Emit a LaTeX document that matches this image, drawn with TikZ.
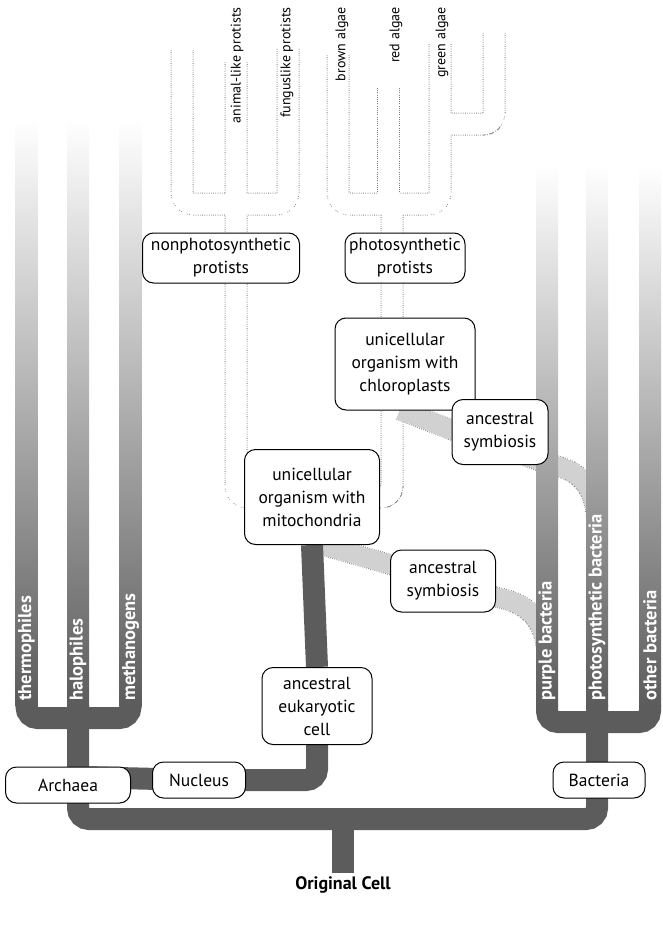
\documentclass[tikz,border=0pt]{standalone}
\usepackage{fontspec}
\setmainfont{PT Sans}
\usetikzlibrary{backgrounds}

\definecolor{barcol}{gray}{0.36}
\definecolor{ghostcol}{gray}{0.5}
\definecolor{bandcol}{gray}{0.82}

% dotted protist branches (drawn twice: edge, then white core)
\newcommand{\protisttree}[1]{%
  \draw[#1] (182,50) |- (288,204) -- (288,48);
  \draw[#1] (236,62) |- (mito);
  \draw[#1] (338,55) |- (440,204) -- (440,43);
  \draw[#1] (388,88) -- (388,204);
  \draw[#1] (494,33) |- (440,124);
  \draw[#1] (392,204) |- (mito);
}
% symbiosis bands
\newcommand{\symbands}[1]{%
  \draw[#1] (597,530) .. controls (597,488) and (582,470) .. (548,464) -- (452,430) -- (400,410);
  \draw[#1] (547,660) .. controls (547,622) and (530,603) .. (495,597) -- (392,565) -- (322,545);
}

\begin{document}
\begin{tikzpicture}[
  x=1pt,y=-1pt,
  font=\fontsize{17.5}{23}\selectfont,
  box/.style={draw, line width=1pt, rounded corners=11pt, fill=white, align=center, inner sep=2pt},
  bar/.style={draw=barcol, line width=22pt, rounded corners=11pt},
  fade/.style={top color=white, bottom color=barcol},
  ghostedge/.style={draw=ghostcol, line width=23pt, dash pattern=on 0.7pt off 1.5pt, rounded corners=11pt},
  ghostcore/.style={draw=white, line width=21pt, rounded corners=11pt},
  bandedge/.style={draw=ghostcol, line width=21pt, dash pattern=on 0.7pt off 1.5pt},
  bandcore/.style={draw=bandcol, line width=19pt},
  barlab/.style={rotate=90, anchor=west, text=white, inner sep=1pt, font=\bfseries\fontsize{18.5}{18}\selectfont},
  toplab/.style={rotate=90, anchor=east, inner sep=1pt, font=\fontsize{14}{14}\selectfont},
]
\useasboundingbox (0,0) rectangle (662,926);

%% ---------- BOXES ----------
\node[box, minimum width=157, minimum height=50] (nonphoto) at (221,258) {nonphotosynthetic\\protists};
\node[box, minimum width=120, minimum height=50] (photo) at (405,258) {photosynthetic\\protists};
\node[box, minimum width=140, minimum height=92] (chloro) at (405,364) {unicellular\\organism with\\chloroplasts};
\node[box, minimum width=96, minimum height=65] (symup) at (500,432) {ancestral\\symbiosis};
\node[box, minimum width=135, minimum height=95] (mito) at (312,497) {unicellular\\organism with\\mitochondria};
\node[box, minimum width=105, minimum height=62] (symlow) at (443,581) {ancestral\\symbiosis};
\node[box, minimum width=110, minimum height=77] (euk) at (317,706) {ancestral\\eukaryotic\\cell};
\node[box, minimum width=93, minimum height=36] (nucleus) at (199,780) {Nucleus};
\node[box, minimum width=125, minimum height=36] (archaea) at (68,785) {Archaea};
\node[box, minimum width=92, minimum height=36] (bacteria) at (599,780) {Bacteria};
\node[font=\bfseries\fontsize{18}{18}\selectfont] (origin) at (343,885) {Original Cell};

%% ---------- PROTIST LABELS ----------
\node[toplab] (animal) at (237,6) {animal-like protists};
\node[toplab] (fungus) at (287,6) {funguslike protists};
\node[toplab] (brown) at (342,6) {brown algae};
\node[toplab] (red) at (396,6) {red algae};
\node[toplab] (green) at (442,6) {green algae};

%% ---------- TREES ----------
\begin{scope}[on background layer]
  \protisttree{ghostedge}
  \protisttree{ghostcore}
  \symbands{bandedge}
  \symbands{bandcore}
  % archaea
  \shade[fade] (15.5,120) rectangle (37.5,706);
  \shade[fade] (67,120) rectangle (89,706);
  \shade[fade] (119.5,120) rectangle (141.5,706);
  \draw[bar] (26.5,705) |- (130.5,718) -- (130.5,705);
  \draw[bar] (78,705) |- (343,819) -| (597,705);
  \draw[bar] (78,777) -- (nucleus.center) -| (euk.south);
  \draw[bar] (euk.north) -- (mito.south);
  \draw[bar] (343,819) -- (origin.north);
  % bacteria
  \shade[fade] (536,165) rectangle (558,706);
  \shade[fade] (586,165) rectangle (608,706);
  \shade[fade] (639,165) rectangle (661,706);
  \draw[bar] (547,705) |- (650,722) -- (650,705);
\end{scope}

%% ---------- BAR LABELS ----------
\node[barlab] (thermo) at (26.5,702) {thermophiles};
\node[barlab] (halo) at (78,702) {halophiles};
\node[barlab] (metha) at (130.5,702) {methanogens};
\node[barlab] (purple) at (547,702) {purple bacteria};
\node[barlab] (photob) at (597,702) {photosynthetic bacteria};
\node[barlab] (other) at (650,702) {other bacteria};
\end{tikzpicture}
\end{document}
